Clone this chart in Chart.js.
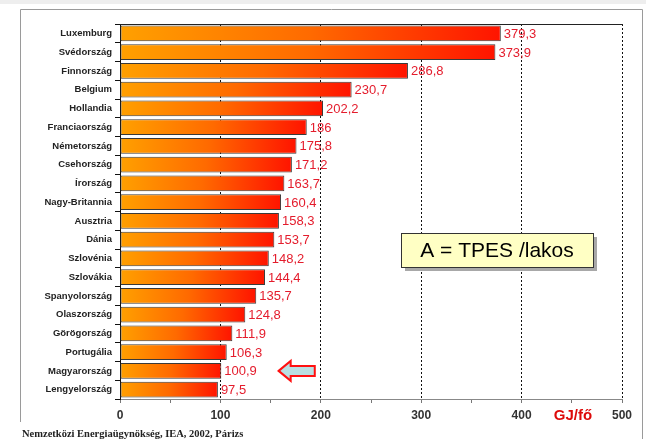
<!DOCTYPE html>
<html>
<head>
<meta charset="utf-8">
<script src="https://cdn.jsdelivr.net/npm/chart.js@4"></script>
<style>
  body { margin: 0; background: #fff; }
  canvas { display: block; }
</style>
</head>
<body>
<canvas id="barChart" width="646" height="439"></canvas>
<script>
// Countries, top to bottom
const countries = [
    'Luxemburg', 'Svédország', 'Finnország', 'Belgium', 'Hollandia',
    'Franciaország', 'Németország', 'Csehország', 'Írország', 'Nagy-Britannia',
    'Ausztria', 'Dánia', 'Szlovénia', 'Szlovákia', 'Spanyolország',
    'Olaszország', 'Görögország', 'Portugália', 'Magyarország', 'Lengyelország'
];

// TPES per capita, GJ/fő
const tpesPerCapita = [
    379.3, 373.9, 286.8, 230.7, 202.2,
    186, 175.8, 171.2, 163.7, 160.4,
    158.3, 153.7, 148.2, 144.4, 135.7,
    124.8, 111.9, 106.3, 100.9, 97.5
];

// x axis ticks (labels only on the hundreds)
const xTicks = [0, 100, 200, 300, 400, 500];

// format numbers the hungarian way (decimal comma)
function huNumber(v) {
    return String(v).replace('.', ',');
}

// orange -> red gradient for each bar
function barGradient(ctx) {
    const chart = ctx.chart;
    if (!chart.chartArea || ctx.type !== 'data') return '#ff8c00';
    const x = chart.scales.x;
    const x0 = x.getPixelForValue(0);
    const x1 = x.getPixelForValue(ctx.raw);
    const g = chart.ctx.createLinearGradient(x0, 0, x1, 0);
    g.addColorStop(0, '#ffa000');
    g.addColorStop(0.5, '#ff6a00');
    g.addColorStop(1, '#ff1400');
    return g;
}

// value labels next to the bars + extra decorations
const decorations = {
    id: 'decorations',
    beforeDraw(chart) {
        const c = chart.ctx;
        // slide frame
        c.save();
        c.fillStyle = '#eeeeee';
        c.fillRect(0, 0, 646, 4);
        c.strokeStyle = '#9a9a9a';
        c.lineWidth = 1;
        c.beginPath();
        c.moveTo(20.5, 422);
        c.lineTo(20.5, 9.5);
        c.lineTo(642.5, 9.5);
        c.lineTo(642.5, 439);
        c.stroke();
        c.restore();
    },
    afterDatasetsDraw(chart) {
        const c = chart.ctx;
        const meta = chart.getDatasetMeta(0);
        c.save();
        c.font = '13px Arial, "Liberation Sans", sans-serif';
        c.fillStyle = '#e41c2c';
        c.textBaseline = 'middle';
        c.textAlign = 'left';
        meta.data.forEach((bar, i) => {
            c.fillText(huNumber(tpesPerCapita[i]), bar.x + 3, bar.y + 1);
        });
        c.restore();
    },
    afterDraw(chart) {
        const c = chart.ctx;
        const area = chart.chartArea;
        const x = chart.scales.x;
        const y = chart.scales.y;

        // solid top line of the plot
        c.save();
        c.strokeStyle = '#222';
        c.lineWidth = 1;
        c.beginPath();
        c.moveTo(area.left, area.top + 0.5);
        c.lineTo(area.right + 1, area.top + 0.5);
        c.stroke();

        // "A = TPES /lakos" box with shadow
        const bx = 401, by = 233, bw = 192, bh = 34;
        c.fillStyle = '#a8a8a8';
        c.fillRect(bx + 4, by + 4, bw, bh);
        c.fillStyle = '#ffffc4';
        c.fillRect(bx, by, bw, bh);
        c.strokeStyle = '#333';
        c.strokeRect(bx + 0.5, by + 0.5, bw, bh);
        c.fillStyle = '#000';
        c.font = '21px Arial, "Liberation Sans", sans-serif';
        c.textBaseline = 'middle';
        c.textAlign = 'center';
        c.fillText('A = TPES /lakos', bx + bw / 2, by + bh / 2 + 1);

        // arrow pointing at Magyarország
        const ay = y.getPixelForValue(countries.indexOf('Magyarország'));
        const tip = x.getPixelForValue(158);
        const neck = x.getPixelForValue(170);
        const tail = x.getPixelForValue(194);
        c.beginPath();
        c.moveTo(tip, ay);
        c.lineTo(neck, ay - 10);
        c.lineTo(neck, ay - 5);
        c.lineTo(tail, ay - 5);
        c.lineTo(tail, ay + 5);
        c.lineTo(neck, ay + 5);
        c.lineTo(neck, ay + 10);
        c.closePath();
        c.fillStyle = '#b9dfe2';
        c.fill();
        c.strokeStyle = '#ff1010';
        c.lineWidth = 2;
        c.stroke();

        // unit label
        c.fillStyle = '#dd0a0a';
        c.font = 'bold 15px Arial, "Liberation Sans", sans-serif';
        c.textAlign = 'center';
        c.textBaseline = 'middle';
        c.fillText('GJ/fő', 573, 416);

        // source
        c.fillStyle = '#222';
        c.font = 'bold 10.5px "Times New Roman", "Liberation Serif", serif';
        c.textAlign = 'left';
        c.textBaseline = 'alphabetic';
        c.fillText('Nemzetközi Energiaügynökség, IEA, 2002, Párizs', 22, 437);
        c.restore();
    }
};

document.addEventListener("DOMContentLoaded", function () {
    const ctx = document.getElementById('barChart').getContext('2d');
    new Chart(ctx, {
        type: 'bar',
        data: {
            labels: countries,
            datasets: [{
                data: tpesPerCapita,
                backgroundColor: barGradient,
                borderColor: '#3a3a3a',
                borderWidth: 1,
                borderSkipped: false,
                barPercentage: 0.85,
                categoryPercentage: 1
            }]
        },
        options: {
            indexAxis: 'y',
            responsive: false,
            devicePixelRatio: 1,
            animation: false,
            layout: {
                padding: { top: 24, right: 24, bottom: 0, left: 0 }
            },
            plugins: {
                legend: { display: false },
                tooltip: { enabled: false }
            },
            scales: {
                x: {
                    min: 0,
                    max: 500,
                    afterFit: (s) => { s.height = 40; },
                    afterBuildTicks: (s) => {
                        // hundreds plus the small ticks in between
                        const t = [];
                        xTicks.forEach((v, i) => {
                            t.push({ value: v });
                            if (i < xTicks.length - 1) t.push({ value: v + 50 });
                        });
                        s.ticks = t;
                    },
                    ticks: {
                        callback: (v) => xTicks.includes(v) ? v : '',
                        color: '#333',
                        font: { family: 'Arial', size: 12, weight: 'bold' },
                        padding: 5,
                        maxRotation: 0,
                        autoSkip: false
                    },
                    grid: {
                        color: (c) => (c.tick && c.tick.value > 0 && c.tick.value % 100 === 0) ? '#111' : 'rgba(0,0,0,0)',
                        tickColor: '#777',
                        tickLength: 4,
                        lineWidth: 1
                    },
                    border: {
                        color: '#888',
                        dash: [2, 2]
                    }
                },
                y: {
                    afterFit: (s) => { s.width = 120; },
                    ticks: {
                        color: '#222',
                        font: { family: 'Arial', size: 9.5, weight: 'bold' },
                        padding: 3,
                        autoSkip: false
                    },
                    grid: {
                        drawOnChartArea: false,
                        color: '#111',
                        tickLength: 5
                    },
                    border: {
                        color: '#111'
                    }
                }
            }
        },
        plugins: [decorations]
    });
});
</script>
</body>
</html>
